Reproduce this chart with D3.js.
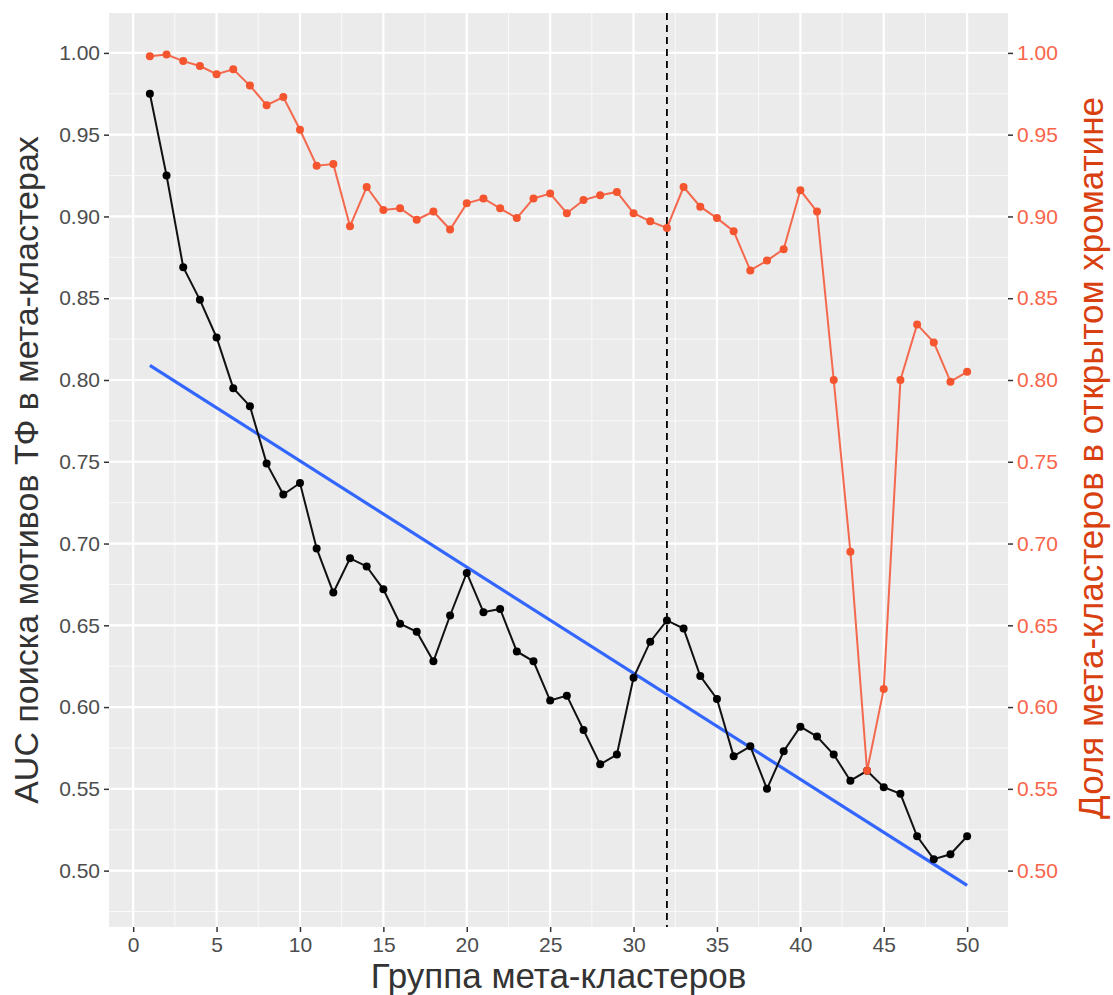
<!DOCTYPE html>
<html>
<head>
<meta charset="utf-8">
<script src="https://cdn.jsdelivr.net/npm/d3@7"></script>
<style>
  body { margin: 0; background: #fff; }
  text { font-family: "Liberation Sans", Arial, sans-serif; }
</style>
</head>
<body>
<div id="viz"></div>
<script>
const width = 1113;
const height = 995;
const margin = { top: 13, right: 105, bottom: 68, left: 109 };
const innerW = width - margin.left - margin.right;
const innerH = height - margin.top - margin.bottom;

// group index 1..50
const groups = d3.range(1, 51);

// AUC of TF motif search in meta-clusters (black)
const auc = [
  0.975, 0.925, 0.869, 0.849, 0.826, 0.795, 0.784, 0.749, 0.730, 0.737,
  0.697, 0.670, 0.691, 0.686, 0.672, 0.651, 0.646, 0.628, 0.656, 0.682,
  0.658, 0.660, 0.634, 0.628, 0.604, 0.607, 0.586, 0.565, 0.571, 0.618,
  0.640, 0.653, 0.648, 0.619, 0.605, 0.570, 0.576, 0.550, 0.573, 0.588,
  0.582, 0.571, 0.555, 0.561, 0.551, 0.547, 0.521, 0.507, 0.510, 0.521
];

// share of meta-clusters in open chromatin (red)
const openShare = [
  0.998, 0.999, 0.995, 0.992, 0.987, 0.990, 0.980, 0.968, 0.973, 0.953,
  0.931, 0.932, 0.894, 0.918, 0.904, 0.905, 0.898, 0.903, 0.892, 0.908,
  0.911, 0.905, 0.899, 0.911, 0.914, 0.902, 0.910, 0.913, 0.915, 0.902,
  0.897, 0.893, 0.918, 0.906, 0.899, 0.891, 0.867, 0.873, 0.880, 0.916,
  0.903, 0.800, 0.695, 0.561, 0.611, 0.800, 0.834, 0.823, 0.799, 0.805
];

const xTicks = [0, 5, 10, 15, 20, 25, 30, 35, 40, 45, 50];
const xMinor = [2.5, 7.5, 12.5, 17.5, 22.5, 27.5, 32.5, 37.5, 42.5, 47.5];
const yTicks = [0.50, 0.55, 0.60, 0.65, 0.70, 0.75, 0.80, 0.85, 0.90, 0.95, 1.00];
const yMinor = [0.475, 0.525, 0.575, 0.625, 0.675, 0.725, 0.775, 0.825, 0.875, 0.925, 0.975];
const cutoff = 32;

const xTitle = 'Группа мета-кластеров';
const yLeftTitle = 'AUC поиска мотивов ТФ в мета-кластерах';
const yRightTitle = 'Доля мета-кластеров в открытом хроматине';

// linear fit (geom_smooth method = lm)
const mx = d3.mean(groups), my = d3.mean(auc);
const slope = d3.sum(groups, (g, i) => (g - mx) * (auc[i] - my)) / d3.sum(groups, g => (g - mx) ** 2);
const intercept = my - slope * mx;
const fit = [1, 50].map(g => ({ x: g, y: intercept + slope * g }));

const xExp = (50 - 1) * 0.05;
const x = d3.scaleLinear().domain([1 - xExp, 50 + xExp]).range([0, innerW]);

const yMin = Math.min(d3.min(auc), d3.min(openShare), d3.min(fit, d => d.y));
const yMax = Math.max(d3.max(auc), d3.max(openShare));
const yExp = (yMax - yMin) * 0.05;
const y = d3.scaleLinear().domain([yMin - yExp, yMax + yExp]).range([innerH, 0]);
const y2 = y.copy();

const svg = d3.select('#viz').append('svg')
  .attr('width', width)
  .attr('height', height);

const chart = svg.append('g')
  .attr('transform', `translate(${margin.left}, ${margin.top})`);

chart.append('rect')
  .attr('width', innerW)
  .attr('height', innerH)
  .attr('fill', '#ebebeb');

// grid
chart.selectAll('.gx-minor').data(xMinor).enter().append('line')
  .attr('x1', d => x(d)).attr('x2', d => x(d))
  .attr('y1', 0).attr('y2', innerH)
  .attr('stroke', '#fafafa').attr('stroke-width', 1);
chart.selectAll('.gy-minor').data(yMinor).enter().append('line')
  .attr('y1', d => y(d)).attr('y2', d => y(d))
  .attr('x1', 0).attr('x2', innerW)
  .attr('stroke', '#fafafa').attr('stroke-width', 1);
chart.selectAll('.gx').data(xTicks).enter().append('line')
  .attr('x1', d => x(d)).attr('x2', d => x(d))
  .attr('y1', 0).attr('y2', innerH)
  .attr('stroke', '#fff').attr('stroke-width', 2.2);
chart.selectAll('.gy').data(yTicks).enter().append('line')
  .attr('y1', d => y(d)).attr('y2', d => y(d))
  .attr('x1', 0).attr('x2', innerW)
  .attr('stroke', '#fff').attr('stroke-width', 2.2);

// axes
const fmt = d3.format('.2f');

const xaxis = chart.append('g')
  .attr('transform', `translate(0, ${innerH})`)
  .call(d3.axisBottom(x).tickValues(xTicks).tickSize(5).tickPadding(5));

const yaxis = chart.append('g')
  .call(d3.axisLeft(y).tickValues(yTicks).tickFormat(fmt).tickSize(5).tickPadding(4));

const yaxis2 = chart.append('g')
  .attr('transform', `translate(${innerW}, 0)`)
  .call(d3.axisRight(y2).tickValues(yTicks).tickFormat(fmt).tickSize(5).tickPadding(4));

[xaxis, yaxis, yaxis2].forEach(a => {
  a.select('.domain').remove();
  a.selectAll('.tick line').attr('stroke', '#333').attr('stroke-width', 1.5);
  a.selectAll('.tick text').style('font-size', '21px').attr('fill', '#4d4d4d');
});
yaxis2.selectAll('.tick text').attr('fill', '#f8654a');

// regression line
const line = d3.line().x(d => x(d.x)).y(d => y(d.y));
chart.append('path')
  .datum(fit)
  .attr('d', line)
  .attr('fill', 'none')
  .attr('stroke', '#3366ff')
  .attr('stroke-width', 3.2);

// cutoff
chart.append('line')
  .attr('x1', x(cutoff)).attr('x2', x(cutoff))
  .attr('y1', 0).attr('y2', innerH)
  .attr('stroke', '#000')
  .attr('stroke-width', 1.8)
  .attr('stroke-dasharray', '7,5');

// AUC series
const aucData = groups.map((g, i) => ({ x: g, y: auc[i] }));
chart.append('path')
  .datum(aucData)
  .attr('d', line)
  .attr('fill', 'none')
  .attr('stroke', '#111')
  .attr('stroke-width', 2);
chart.selectAll('.pt-auc').data(aucData).enter().append('circle')
  .attr('cx', d => x(d.x))
  .attr('cy', d => y(d.y))
  .attr('r', 4)
  .attr('fill', '#000');

// open chromatin series
const openData = groups.map((g, i) => ({ x: g, y: openShare[i] }));
chart.append('path')
  .datum(openData)
  .attr('d', d3.line().x(d => x(d.x)).y(d => y2(d.y)))
  .attr('fill', 'none')
  .attr('stroke', '#f4694e')
  .attr('stroke-width', 2);
chart.selectAll('.pt-open').data(openData).enter().append('circle')
  .attr('cx', d => x(d.x))
  .attr('cy', d => y2(d.y))
  .attr('r', 4)
  .attr('fill', '#f4552f');

// titles
svg.append('text')
  .attr('x', margin.left + innerW / 2)
  .attr('y', 988)
  .attr('text-anchor', 'middle')
  .style('font-size', '35px')
  .attr('fill', '#333')
  .text(xTitle);

svg.append('text')
  .attr('transform', `translate(38, ${margin.top + innerH / 2}) rotate(-90)`)
  .attr('text-anchor', 'middle')
  .style('font-size', '34px')
  .attr('fill', '#333')
  .text(yLeftTitle);

svg.append('text')
  .attr('transform', `translate(1103, 458) rotate(-90)`)
  .attr('text-anchor', 'middle')
  .style('font-size', '35px')
  .attr('fill', '#d9400f')
  .text(yRightTitle);
</script>
</body>
</html>
